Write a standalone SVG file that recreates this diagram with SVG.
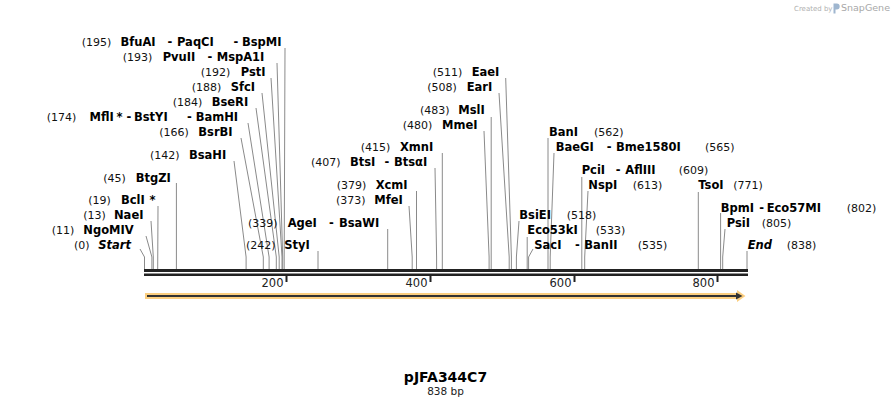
<svg xmlns="http://www.w3.org/2000/svg" width="892" height="408" viewBox="0 0 892 408">
<style>
text{font-family:"DejaVu Sans","Liberation Sans",sans-serif;font-size:11px;fill:#000}
.b{font-weight:bold;font-size:11.5px}
.i{font-weight:bold;font-style:italic;font-size:11.5px}
.n{font-weight:normal;fill:#111}
.ld{fill:none;stroke:#8a8a8a;stroke-width:1}
.tk{font-size:11.5px;fill:#222}
</style>
<rect width="892" height="408" fill="#fff"/>
<g id="snapgene-credit">
<text x="794" y="10.5" style="font-size:7px;fill:#b0b0b0">Created by</text>
<path d="M833.5 3.5h3.2a3 3 0 0 1 0 6h-1.2v4h-2z" fill="#9fb6cf"/>
<text x="841" y="11" style="font-size:9.5px;fill:#a8a8a8">SnapGene</text>
</g>
<g id="connectors">
<polyline class="ld" points="285,48 284.2,257 284.2,269"/>
<polyline class="ld" points="277,63 282.7,257 282.7,269"/>
<polyline class="ld" points="271,78 282,257 282,269"/>
<polyline class="ld" points="262,93 279.2,257 279.2,269"/>
<polyline class="ld" points="256,108 276.3,257 276.3,269"/>
<polyline class="ld" points="248,123 269.1,257 269.1,269"/>
<polyline class="ld" points="241,138 263.3,257 263.3,269"/>
<polyline class="ld" points="234,161 246.1,257 246.1,269"/>
<polyline class="ld" points="176.4,183 176.4,269"/>
<polyline class="ld" points="158,206 157.7,269"/>
<polyline class="ld" points="151,221 153.3,257 153.3,269"/>
<polyline class="ld" points="146,236 151.9,257 151.9,269"/>
<polyline class="ld" points="140,249 144.5,257 144.5,269"/>
<polyline class="ld" points="387.7,229 387.7,269"/>
<polyline class="ld" points="318,251 318,269"/>
<polyline class="ld" points="442.3,153 442.3,269"/>
<polyline class="ld" points="435,168 436.6,257 436.6,269"/>
<polyline class="ld" points="416.5,191 416.5,269"/>
<polyline class="ld" points="409,206 412.2,257 412.2,269"/>
<polyline class="ld" points="505.7,78 511.4,257 511.4,269"/>
<polyline class="ld" points="499,93 509.2,257 509.2,269"/>
<polyline class="ld" points="491.2,117 491.2,269"/>
<polyline class="ld" points="484,131 489.1,257 489.1,269"/>
<polyline class="ld" points="548,138 548,269"/>
<polyline class="ld" points="554,153 550.2,257 550.2,269"/>
<polyline class="ld" points="581.8,177 581.8,269"/>
<polyline class="ld" points="588,191 584.7,257 584.7,269"/>
<polyline class="ld" points="519,221 516.4,257 516.4,269"/>
<polyline class="ld" points="527.2,237 527.2,269"/>
<polyline class="ld" points="533,249 528.6,257 528.6,269"/>
<polyline class="ld" points="698.3,192 698.3,269"/>
<polyline class="ld" points="720.6,213 720.6,269"/>
<polyline class="ld" points="725,229 722.7,257 722.7,269"/>
<polyline class="ld" points="747,251 747,269"/>
</g>
<g id="sequence-bar">
<rect x="144" y="269" width="604" height="3" fill="#222"/>
<rect x="144" y="273.5" width="604" height="2.5" fill="#222"/>
<rect x="285.5" y="275" width="2" height="7" fill="#222"/>
<rect x="429.5" y="275" width="2" height="7" fill="#222"/>
<rect x="573.5" y="275" width="2" height="7" fill="#222"/>
<rect x="716.5" y="275" width="2" height="7" fill="#222"/>
<text class="tk" x="283.5" y="287" text-anchor="end">200</text>
<text class="tk" x="427.5" y="287" text-anchor="end">400</text>
<text class="tk" x="571.5" y="287" text-anchor="end">600</text>
<text class="tk" x="714.5" y="287" text-anchor="end">800</text>
</g>
<g id="feature-arrow">
<polygon points="145,293 737,293 737,290 745.5,296 737,302 737,299 145,299" fill="#fccf80"/>
<rect x="147" y="295" width="590" height="2" fill="#333"/>
<polygon points="736,292.5 742.5,296 736,299.5" fill="#333"/>
</g>
<g id="lbl-195"><text y="46"><tspan class="n" x="81.7">(195)</tspan><tspan class="b" x="120.5">BfuAI</tspan><tspan class="b" x="167.5">-</tspan><tspan class="b" x="177">PaqCI</tspan><tspan class="b" x="233.5">-</tspan><tspan class="b" x="242">BspMI</tspan></text></g>
<g id="lbl-193"><text y="61"><tspan class="n" x="122.7">(193)</tspan><tspan class="b" x="162.7">PvuII</tspan><tspan class="b" x="207.5">-</tspan><tspan class="b" x="216.7">MspA1I</tspan></text></g>
<g id="lbl-192"><text y="76"><tspan class="n" x="200.7">(192)</tspan><tspan class="b" x="240.7">PstI</tspan></text></g>
<g id="lbl-188"><text y="91"><tspan class="n" x="191.7">(188)</tspan><tspan class="b" x="230.7">SfcI</tspan></text></g>
<g id="lbl-184"><text y="106"><tspan class="n" x="172.7">(184)</tspan><tspan class="b" x="211.7">BseRI</tspan></text></g>
<g id="lbl-174"><text y="121"><tspan class="n" x="46.7">(174)</tspan><tspan class="b" x="89.5">MflI</tspan><tspan class="b" x="116.5">*</tspan><tspan class="b" x="126.5">-</tspan><tspan class="b" x="134">BstYI</tspan><tspan class="b" x="187">-</tspan><tspan class="b" x="195.7">BamHI</tspan></text></g>
<g id="lbl-166"><text y="136"><tspan class="n" x="159.3">(166)</tspan><tspan class="b" x="198.3">BsrBI</tspan></text></g>
<g id="lbl-142"><text y="159"><tspan class="n" x="150">(142)</tspan><tspan class="b" x="189">BsaHI</tspan></text></g>
<g id="lbl-45"><text y="181.5"><tspan class="n" x="103.3">(45)</tspan><tspan class="b" x="135.7">BtgZI</tspan></text></g>
<g id="lbl-19"><text y="204"><tspan class="n" x="88.3">(19)</tspan><tspan class="b" x="121">BclI</tspan><tspan class="b" x="149.5">*</tspan></text></g>
<g id="lbl-13"><text y="219"><tspan class="n" x="83.3">(13)</tspan><tspan class="b" x="114">NaeI</tspan></text></g>
<g id="lbl-11"><text y="234"><tspan class="n" x="51.7">(11)</tspan><tspan class="b" x="83.3">NgoMIV</tspan></text></g>
<g id="lbl-0"><text y="249"><tspan class="n" x="74">(0)</tspan><tspan class="i" x="98.3">Start</tspan></text></g>
<g id="lbl-339"><text y="226.5"><tspan class="n" x="248">(339)</tspan><tspan class="b" x="287.7">AgeI</tspan><tspan class="b" x="329">-</tspan><tspan class="b" x="339">BsaWI</tspan></text></g>
<g id="lbl-242"><text y="249"><tspan class="n" x="246">(242)</tspan><tspan class="b" x="284.3">StyI</tspan></text></g>
<g id="lbl-415"><text y="151"><tspan class="n" x="360.7">(415)</tspan><tspan class="b" x="400">XmnI</tspan></text></g>
<g id="lbl-407"><text y="166"><tspan class="n" x="311">(407)</tspan><tspan class="b" x="350">BtsI</tspan><tspan class="b" x="384.5">-</tspan><tspan class="b" x="394">BtsαI</tspan></text></g>
<g id="lbl-379"><text y="189"><tspan class="n" x="336.7">(379)</tspan><tspan class="b" x="375.7">XcmI</tspan></text></g>
<g id="lbl-373"><text y="204"><tspan class="n" x="336">(373)</tspan><tspan class="b" x="374.3">MfeI</tspan></text></g>
<g id="lbl-511"><text y="76"><tspan class="n" x="432.7">(511)</tspan><tspan class="b" x="471.7">EaeI</tspan></text></g>
<g id="lbl-508"><text y="91"><tspan class="n" x="427.3">(508)</tspan><tspan class="b" x="466.7">EarI</tspan></text></g>
<g id="lbl-483"><text y="114"><tspan class="n" x="420">(483)</tspan><tspan class="b" x="458.3">MslI</tspan></text></g>
<g id="lbl-480"><text y="129"><tspan class="n" x="402.7">(480)</tspan><tspan class="b" x="442">MmeI</tspan></text></g>
<g id="lbl-562"><text y="136"><tspan class="b" x="549">BanI</tspan><tspan class="n" x="594">(562)</tspan></text></g>
<g id="lbl-565"><text y="151"><tspan class="b" x="555.7">BaeGI</tspan><tspan class="b" x="606.7">-</tspan><tspan class="b" x="616">Bme1580I</tspan><tspan class="n" x="705">(565)</tspan></text></g>
<g id="lbl-609"><text y="174"><tspan class="b" x="581.7">PciI</tspan><tspan class="b" x="615.7">-</tspan><tspan class="b" x="625.3">AflIII</tspan><tspan class="n" x="678.7">(609)</tspan></text></g>
<g id="lbl-613"><text y="189"><tspan class="b" x="588.3">NspI</tspan><tspan class="n" x="632.7">(613)</tspan></text></g>
<g id="lbl-518"><text y="218.5"><tspan class="b" x="519.3">BsiEI</tspan><tspan class="n" x="566.7">(518)</tspan></text></g>
<g id="lbl-533"><text y="234"><tspan class="b" x="527.3">Eco53kI</tspan><tspan class="n" x="595.7">(533)</tspan></text></g>
<g id="lbl-535"><text y="249"><tspan class="b" x="534.3">SacI</tspan><tspan class="b" x="575">-</tspan><tspan class="b" x="584.3">BanII</tspan><tspan class="n" x="637.7">(535)</tspan></text></g>
<g id="lbl-771"><text y="189"><tspan class="b" x="698.3">TsoI</tspan><tspan class="n" x="733.3">(771)</tspan></text></g>
<g id="lbl-802"><text y="211.5"><tspan class="b" x="720.7">BpmI</tspan><tspan class="b" x="759.3">-</tspan><tspan class="b" x="766.7">Eco57MI</tspan><tspan class="n" x="846.7">(802)</tspan></text></g>
<g id="lbl-805"><text y="226.5"><tspan class="b" x="726.7">PsiI</tspan><tspan class="n" x="761.7">(805)</tspan></text></g>
<g id="lbl-838"><text y="249"><tspan class="i" x="747.7">End</tspan><tspan class="n" x="786.7">(838)</tspan></text></g>
<g id="title">
<text x="445.5" y="382" text-anchor="middle" style="font-size:14px;font-weight:bold">pJFA344C7</text>
<text x="445.5" y="395" text-anchor="middle" style="font-size:10.5px;fill:#222">838 bp</text>
</g>
</svg>
